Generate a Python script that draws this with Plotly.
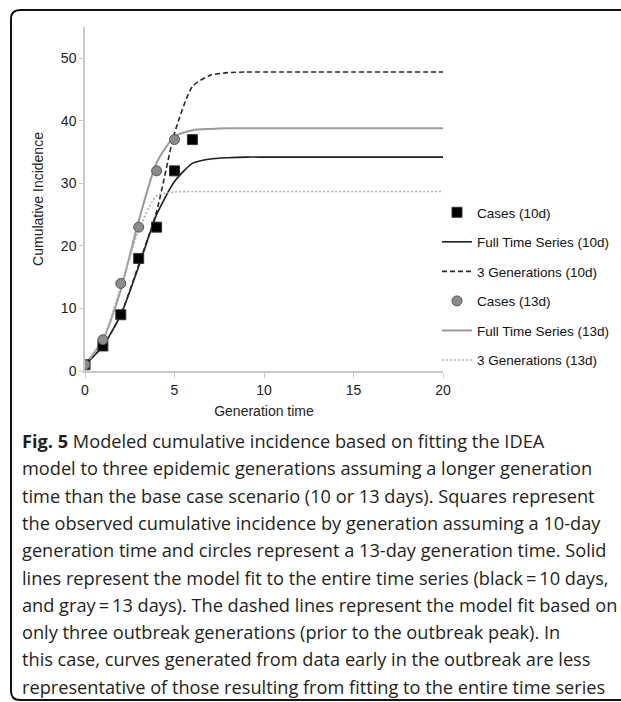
import plotly.graph_objects as go

# ---- data ----
gen_cases_10 = [0, 1, 2, 3, 4, 5, 6]
cases_10 = [1, 4, 9, 18, 23, 32, 37]
gen_cases_13 = [0, 1, 2, 3, 4, 5]
cases_13 = [1, 5, 14, 23, 32, 37]

gen_model = list(range(0, 21))
full_10 = [1, 4, 9, 16.7, 25, 30.3, 33.2, 33.9, 34.1, 34.2, 34.2, 34.2, 34.2, 34.2, 34.2, 34.2, 34.2, 34.2, 34.2, 34.2, 34.2]
three_10 = [1, 4, 9, 17, 25.5, 38, 45.5, 47.3, 47.7, 47.8, 47.8, 47.8, 47.8, 47.8, 47.8, 47.8, 47.8, 47.8, 47.8, 47.8, 47.8]
full_13 = [1, 5, 13, 24, 33.3, 37.5, 38.5, 38.7, 38.8, 38.8, 38.8, 38.8, 38.8, 38.8, 38.8, 38.8, 38.8, 38.8, 38.8, 38.8, 38.8]
three_13 = [1, 5, 13.5, 22.5, 28, 28.6, 28.7, 28.7, 28.7, 28.7, 28.7, 28.7, 28.7, 28.7, 28.7, 28.7, 28.7, 28.7, 28.7, 28.7, 28.7]

x_ticks = [0, 5, 10, 15, 20]
y_ticks = [0, 10, 20, 30, 40, 50]

caption_lines = [
    "<b>Fig. 5</b> Modeled cumulative incidence based on fitting the IDEA",
    "model to three epidemic generations assuming a longer generation",
    "time than the base case scenario (10 or 13 days). Squares represent",
    "the observed cumulative incidence by generation assuming a 10-day",
    "generation time and circles represent a 13-day generation time. Solid",
    "lines represent the model fit to the entire time series (black\u2009=\u200910 days,",
    "and gray\u2009=\u200913 days). The dashed lines represent the model fit based on",
    "only three outbreak generations (prior to the outbreak peak). In",
    "this case, curves generated from data early in the outbreak are less",
    "representative of those resulting from fitting to the entire time series",
]

# ---- figure ----
W, H = 621, 702
L, R, T, B = 85, 443, 27, 371  # plot area in px


def px_x(px):
    return (px - L) / (R - L)


def px_y(py):
    return (B - py) / (B - T)


fig = go.Figure()

fig.add_trace(go.Scatter(
    x=gen_model, y=full_10, mode="lines", name="Full Time Series (10d)",
    line=dict(color="#1e1e1e", width=1.6, shape="spline", smoothing=0.6),
    legendgroup="b", legendrank=2))
fig.add_trace(go.Scatter(
    x=gen_model, y=three_10, mode="lines", name="3 Generations (10d)",
    line=dict(color="#2a2a2a", width=1.6, dash="5px,3px", shape="spline", smoothing=0.6),
    legendgroup="c", legendrank=3))
fig.add_trace(go.Scatter(
    x=gen_model, y=full_13, mode="lines", name="Full Time Series (13d)",
    line=dict(color="#9a9a9a", width=2, shape="spline", smoothing=0.6),
    legendgroup="e", legendrank=5))
fig.add_trace(go.Scatter(
    x=gen_model, y=three_13, mode="lines", name="3 Generations (13d)",
    line=dict(color="#b0b0b0", width=1.6, dash="2px,2px", shape="spline", smoothing=0.6),
    legendgroup="f", legendrank=6))
fig.add_trace(go.Scatter(
    x=gen_cases_10, y=cases_10, mode="markers", name="Cases (10d)",
    marker=dict(symbol="square", size=10, color="#000000", line=dict(color="#333333", width=1)),
    legendgroup="a", legendrank=1))
fig.add_trace(go.Scatter(
    x=gen_cases_13, y=cases_13, mode="markers", name="Cases (13d)",
    marker=dict(symbol="circle", size=10, color="#8c8c8c", line=dict(color="#555555", width=1)),
    legendgroup="d", legendrank=4))

shapes = []
# rounded frame (left, top, bottom edges; right edge lies outside the view)
x0, x1 = px_x(11), px_x(660)
y0, y1 = px_y(10), px_y(700)
rx, ry = 9 / (R - L), 9 / (B - T)
path = (f"M {x1},{y0} L {x0 + rx},{y0} Q {x0},{y0} {x0},{y0 - ry} "
        f"L {x0},{y1 + ry} Q {x0},{y1} {x0 + rx},{y1} L {x1},{y1}")
shapes.append(dict(type="path", xref="paper", yref="paper", path=path,
                   line=dict(color="#111111", width=2)))

annotations = []
y_first, spacing = 441, 27.3
for i, line in enumerate(caption_lines):
    annotations.append(dict(
        text=line, xref="paper", yref="paper", x=px_x(20), y=px_y(y_first + i * spacing),
        xanchor="left", yanchor="middle", showarrow=False,
        font=dict(family="Open Sans", size=18.2, color="#231f20")))

fig.update_layout(
    width=W, height=H,
    margin=dict(l=L, r=W - R, t=T, b=H - B, pad=0, autoexpand=False),
    paper_bgcolor="white", plot_bgcolor="white",
    font=dict(family="Liberation Sans, Arial", size=14, color="#222222"),
    showlegend=True,
    legend=dict(x=px_x(437), y=px_y(197), xanchor="left", yanchor="top",
                bgcolor="rgba(0,0,0,0)", tracegroupgap=9,
                font=dict(size=13.5, color="#111111"), itemwidth=30),
    shapes=shapes, annotations=annotations,
)

fig.update_xaxes(range=[0, 20], tickvals=x_ticks, showgrid=False, zeroline=False,
                 showline=True, linecolor="#c8c8c8", linewidth=1.5,
                 ticks="outside", ticklen=5, tickcolor="#c8c8c8",
                 tickfont=dict(size=14), automargin=False,
                 title=dict(text="Generation time", font=dict(size=14), standoff=10))
fig.update_yaxes(range=[0, 55], tickvals=y_ticks, showgrid=False, zeroline=False,
                 showline=True, linecolor="#c8c8c8", linewidth=1.5,
                 ticks="outside", ticklen=4, tickcolor="#c8c8c8",
                 tickfont=dict(size=14), automargin=False,
                 title=dict(text="Cumulative Incidence", font=dict(size=14), standoff=14))

fig.write_html("out.html")
